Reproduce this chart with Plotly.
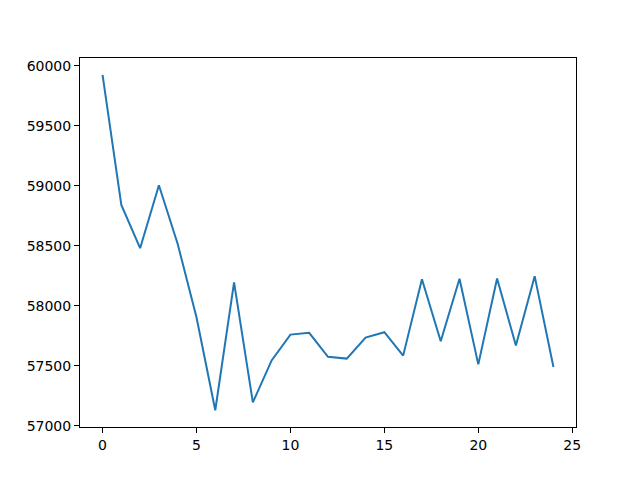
import plotly.graph_objects as go

x_vals = list(range(25))
y_vals = [59925, 58840, 58480, 59005, 58515, 57905, 57130, 58195, 57195,
          57545, 57760, 57775, 57575, 57560, 57735, 57780, 57585, 58222,
          57705, 58225, 57512, 58228, 57670, 58247, 57490]
x_ticks = [0, 5, 10, 15, 20, 25]
y_ticks = [57000, 57500, 58000, 58500, 59000, 59500, 60000]

xmin, xmax = min(x_vals), max(x_vals)
ymin, ymax = min(y_vals), max(y_vals)
xm = (xmax - xmin) * 0.05
ym = (ymax - ymin) * 0.05

fig = go.Figure(go.Scatter(x=x_vals, y=y_vals, mode="lines",
                           line=dict(color="#1f77b4", width=2)))

axis_common = dict(showgrid=False, zeroline=False, showline=True, mirror=True,
                   linecolor="black", linewidth=1, ticks="outside", ticklen=5,
                   tickwidth=1, tickcolor="black",
                   tickfont=dict(family="DejaVu Sans", size=14, color="black"))

fig.update_layout(
    width=640, height=480,
    margin=dict(l=72, r=72, t=50, b=61),
    paper_bgcolor="white", plot_bgcolor="white",
    showlegend=False,
    xaxis=dict(range=[xmin - xm, xmax + xm], tickvals=x_ticks,
               ticktext=[str(t) for t in x_ticks], **axis_common),
    yaxis=dict(range=[ymin - ym, ymax + ym], tickvals=y_ticks,
               ticktext=[str(t) for t in y_ticks], **axis_common),
)

fig.write_html("out.html")
